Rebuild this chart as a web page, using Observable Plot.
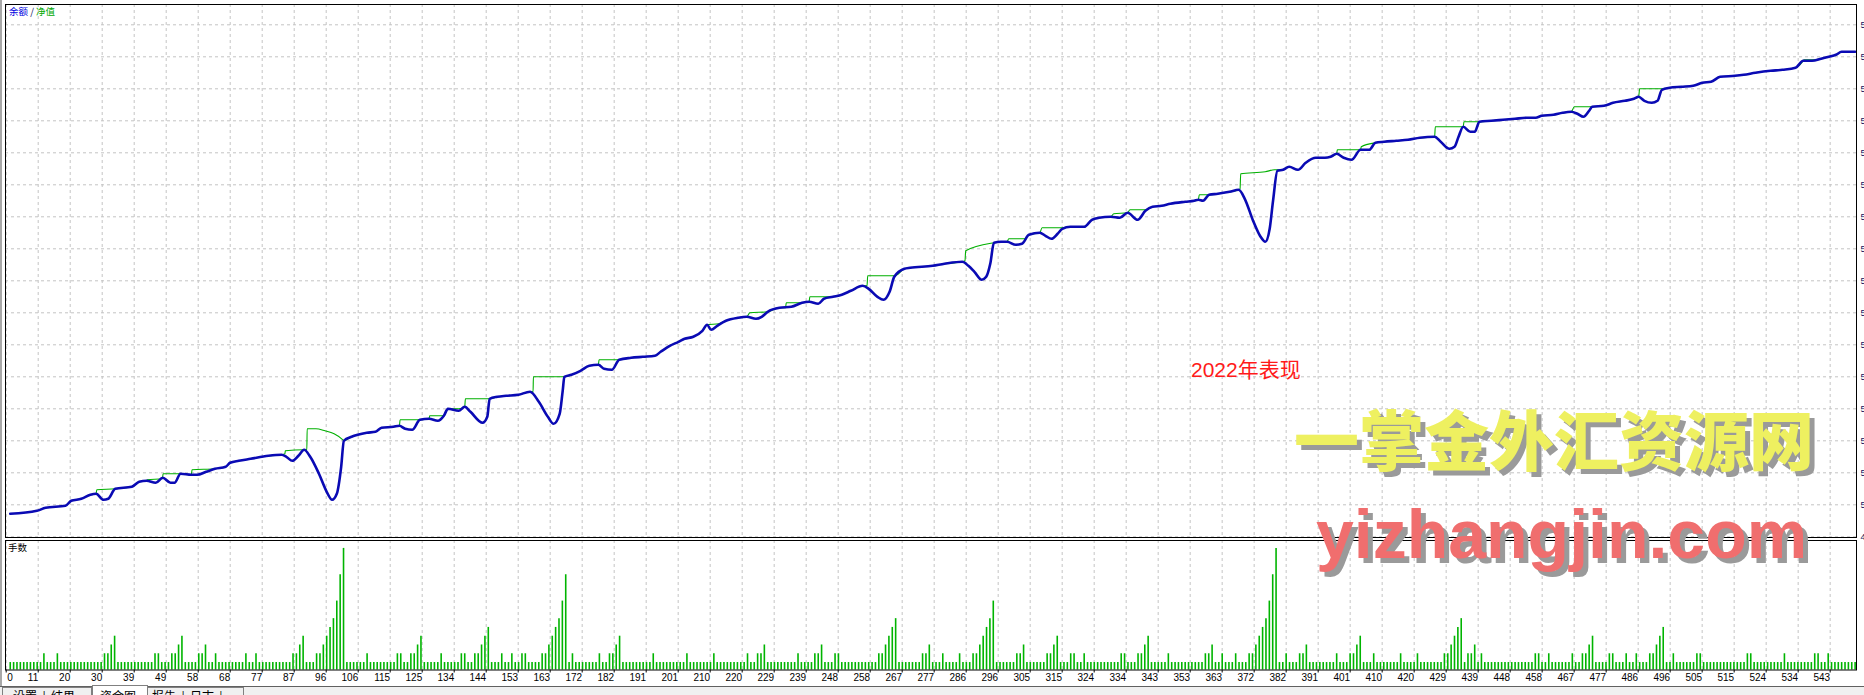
<!DOCTYPE html>
<html><head><meta charset="utf-8">
<script src="https://cdn.jsdelivr.net/npm/d3@7"></script>
<script src="https://cdn.jsdelivr.net/npm/@observablehq/plot@0.6"></script>
<style>
html,body{margin:0;padding:0;background:#fff;overflow:hidden;width:1864px;height:695px;}
#wrap{position:relative;width:1864px;height:695px;overflow:hidden;}
.abs{position:absolute;white-space:nowrap;}
#main,#vol{position:absolute;left:0;}
#main{top:0;} #vol{top:537px;}
.cjk{font-family:"Noto Sans CJK SC","Noto Sans",sans-serif;}
</style></head><body><div id="wrap">
<div class="abs" style="left:0;top:0;width:2px;height:695px;background:#a8a8a8"></div>
<div id="main"></div><div id="vol"></div>
<div class="abs cjk" style="left:9px;top:5px;font-size:9.5px;line-height:12px;"><span style="color:#0000e0">余额</span><span style="color:#101060"> / </span><span style="color:#00a800">净值</span></div>
<div class="abs cjk" style="left:8px;top:541px;font-size:9.5px;line-height:12px;color:#000">手数</div>
<div class="abs" style="left:1191px;top:358px;font-family:'Liberation Sans','Noto Sans CJK SC',sans-serif;font-size:21px;line-height:24px;color:#ff1a1a">2022年表现</div>
<div class="abs cjk" style="left:1294px;top:397px;font-size:65px;line-height:80px;font-weight:900;color:#eef060;text-shadow:5px 5px 0 #9a9a9a">一掌金外汇资源网</div>
<div class="abs" style="left:1316px;top:494px;font-family:'Liberation Sans',Arial,sans-serif;font-size:68px;line-height:80px;font-weight:bold;color:#f06e6e;text-shadow:5px 5px 0 #9a9a9a">yizhangjin.com</div>
<div class="abs" style="left:0;top:686px;width:1864px;height:9px;background:#f0f0f0;border-top:1px solid #606060"></div>
<div class="abs cjk" style="left:2px;top:687px;width:88px;height:12px;border:1px solid #808080;background:#f0f0f0"></div>
<div class="abs cjk" style="left:13px;top:689px;font-size:12px;line-height:14px;color:#000">设置&nbsp;&nbsp;|&nbsp;&nbsp;结果</div>
<div class="abs cjk" style="left:92px;top:685px;width:54px;height:12px;border:1px solid #808080;border-bottom:none;background:#fff"></div>
<div class="abs cjk" style="left:100px;top:689px;font-size:12px;line-height:14px;color:#000">资金图</div>
<div class="abs cjk" style="left:147px;top:687px;width:95px;height:12px;border:1px solid #808080;background:#f0f0f0"></div>
<div class="abs cjk" style="left:152px;top:689px;font-size:12px;line-height:14px;color:#000">报告&nbsp;&nbsp;|&nbsp;&nbsp;日志&nbsp;&nbsp;|</div>
</div>
<script>
// ---- x axis (trade numbers) ----
const xTickLabels = [0,11,20,30,39,49,58,68,77,87,96,106,115,125,134,144,153,163,172,182,191,201,210,220,229,239,248,258,267,277,286,296,305,315,324,334,343,353,363,372,382,391,401,410,420,429,439,448,458,467,477,486,496,505,515,524,534,543];
const gridStart = 1.8, gridStep = 9.505;       // trade number at each grid line
const xDomain = [1.592, 551.41];
const firstBarTrade = 3;

// ---- y axis (balance) ----
const yTicks = [4977,5009,5041,5073,5105,5137,5169,5201,5233,5265,5297,5329,5361,5393,5425,5457,5489];
const yDomain = [4976.3, 5509.3];

// ---- balance (blue) : bar index, value ----
const balanceIdx = [0,7.9,10.5,16.4,18.1,21.1,23.8,25.5,27.7,29.1,31.2,36.1,38.3,40.5,43.2,45.3,47.6,48.8,50.6,53.8,55.5,58.2,60.8,64,65.3,67.9,71.4,76.7,80.6,82,83.8,85.6,87.3,89.1,91.7,94,95.6,97,98.3,99.1,101.4,103.2,105.9,108.5,110.3,113.8,115.6,117.3,119.4,121.7,124.4,127,128.8,130,133.2,135,136.7,140.3,141.7,142.4,144.7,147.3,150.9,154.4,157,159.7,161.4,163.2,164.1,164.6,166.7,169.4,172,174.7,176.4,178.7,180.9,184.4,187.9,191.5,193.2,195.9,198.5,200.3,202.9,205.6,207,208.2,210,212.6,216.2,218.8,221.5,223.2,225,228.5,232,235.2,237.3,240,241.7,244.4,247,249.7,253.2,255,257.6,259.4,261.2,262.6,265.6,267.3,274,277.5,282.8,284.6,286.4,288.6,289.9,291.1,292.2,294.3,296.1,298.7,300.5,302.6,305.8,307.5,309.3,311.1,312.5,314.9,319,321.3,323.4,326.9,329.6,331.9,334.9,337.2,339.3,342,344.6,349,351.7,352.9,354.3,356.1,358.7,362.2,364.9,366.7,369.3,371.4,372.8,374.1,375.1,376.4,378.1,379.9,382.5,384.8,387.8,390.5,392.2,394,396.1,398.4,401.1,403.7,405.5,408.1,411.7,415.2,418.7,423.1,424.9,427.5,429,430.2,431.6,433.7,435,436.4,439.9,443.4,447,450.5,453.1,454.9,458.4,461.1,463.7,465.5,467.3,469,469.9,473.4,476.1,479.6,482.3,483.7,485.4,487.6,489.3,490.6,492.9,496.4,499.9,502.6,505.2,507.9,512.3,514.9,518.4,522.9,526.4,530.3,532.6,535.2,537.9,540.2,542.3,544,548];
const balanceValue = [5000,5003,5006,5008,5013,5015,5019,5020,5014,5015,5025,5027,5032,5033,5031,5036,5031,5031,5040,5039,5039,5042,5045,5047,5051,5053,5055,5058,5059,5057,5053,5058,5064,5057,5040,5022,5014,5020,5047,5073,5077,5079,5081,5082,5086,5087,5088,5085,5084,5094,5095,5093,5098,5105,5103,5107,5102,5091,5097,5115,5117,5118,5119,5122,5112,5097,5090,5100,5123,5137,5139,5143,5148,5149,5145,5144,5154,5156,5157,5158,5162,5168,5172,5175,5177,5183,5189,5184,5188,5193,5196,5197,5195,5197,5202,5206,5207,5211,5212,5210,5215,5217,5219,5223,5228,5225,5217,5214,5222,5237,5245,5246,5248,5250,5252,5248,5242,5234,5237,5250,5271,5272,5272,5269,5270,5279,5281,5278,5275,5280,5285,5287,5287,5294,5296,5297,5296,5301,5294,5303,5307,5308,5310,5312,5313,5314,5313,5319,5320,5322,5324,5315,5292,5277,5272,5285,5313,5343,5344,5347,5344,5351,5356,5356,5357,5360,5356,5354,5364,5364,5371,5372,5373,5374,5376,5377,5372,5365,5367,5377,5387,5382,5382,5392,5393,5394,5395,5396,5396,5398,5399,5401,5402,5400,5397,5403,5407,5408,5411,5413,5415,5417,5413,5411,5413,5424,5426,5427,5428,5431,5432,5437,5438,5439,5441,5443,5444,5446,5453,5453,5455,5457,5459,5462,5462];

// ---- equity (green) where it separates from balance: [bar index, value] ----
const equitySegments = [
 [[25.5,5020],[25.7,5024],[31.2,5025]],
 [[40.5,5033],[40.7,5034],[45.2,5035],[45.4,5040],[50.6,5040]],
 [[53.8,5039],[54,5044],[60.8,5045]],
 [[80.6,5059],[81.6,5060],[81.7,5063],[87.3,5064],[88.1,5064],[88.2,5085],[90.8,5085],[93.5,5083],[96.2,5080],[98.8,5074],[99.1,5073]],
 [[115.6,5088],[115.8,5094],[121.7,5094]],
 [[124.4,5095],[124.6,5098],[128.8,5098]],
 [[130,5105],[133.2,5105],[135,5107],[135.2,5115],[142.4,5115]],
 [[154.4,5122],[155.3,5122],[155.4,5137],[164.6,5137]],
 [[174.7,5149],[174.9,5154],[180.9,5154]],
 [[207,5189],[210.5,5190],[212.6,5193]],
 [[218.8,5197],[219.7,5201],[225,5202]],
 [[230.3,5206],[230.5,5211],[235.2,5211]],
 [[237.3,5212],[237.5,5217],[244.4,5217]],
 [[253.2,5228],[254.5,5228],[254.7,5238],[262.8,5238]],
 [[282.8,5252],[283.6,5253],[283.8,5263],[292.2,5271]],
 [[296.1,5272],[296.6,5275],[301.4,5275],[302.6,5279]],
 [[305.8,5281],[306.5,5286],[312.5,5286]],
 [[326.9,5297],[327.8,5300],[331.9,5301],[332.6,5304],[337.2,5304]],
 [[352.9,5314],[353.2,5319],[356.1,5319]],
 [[364.9,5324],[365.3,5325],[365.5,5340],[372.8,5342],[375.5,5344],[376.4,5344]],
 [[394,5360],[394.2,5364],[401.1,5364],[401.3,5367],[405.5,5371]],
 [[423.1,5377],[423.3,5387],[431.6,5387],[431.8,5392],[436.4,5392]],
 [[463.7,5402],[464.6,5407],[469.9,5407]],
 [[483.7,5417],[484,5425],[490.6,5425]],
 [[532.6,5453],[532.8,5454],[535.5,5454],[537.9,5455]]
];

// ---- lots (手数): every trade has a bar; base lot plus the larger ones ----
const tradeCount = 549;
const baseLot = 1;
const spikeIdx = [10,14,28,29,30,31,43,44,48,49,50,51,56,57,58,61,70,73,84,85,86,87,91,92,93,94,95,96,97,98,99,106,115,116,119,120,121,122,128,134,135,138,139,140,141,142,146,149,152,153,158,159,160,161,162,163,164,165,167,175,178,179,180,181,191,201,209,219,222,223,224,234,239,240,241,245,246,258,259,260,261,262,263,271,272,273,277,282,286,287,288,289,290,291,292,299,300,301,308,309,310,311,315,316,319,330,331,335,336,337,338,344,355,356,357,360,364,368,369,370,371,372,373,374,375,376,379,383,384,385,394,398,399,400,401,405,413,418,426,427,428,429,430,431,433,434,435,437,453,454,457,464,467,468,469,470,475,476,480,483,487,488,489,490,491,494,501,502,516,517,527,536,537,540];
const spikeLot = [2,2,2,2,3,4,2,2,2,2,3,4,2,2,3,2,2,2,2,2,3,4,2,2,3,4,5,6,8,11,14,2,2,2,2,2,3,4,2,2,2,2,2,3,4,5,2,2,2,2,2,2,3,4,5,6,8,11,2,2,2,2,3,4,2,2,2,2,2,2,3,2,2,2,3,2,2,2,2,3,4,5,6,2,2,3,2,2,2,2,3,4,5,6,8,2,2,3,2,2,3,4,2,2,2,2,2,2,2,3,4,2,2,2,3,2,2,2,2,3,4,5,6,8,11,14,2,2,2,3,2,2,2,3,4,2,2,2,2,2,3,4,5,6,2,2,3,2,2,2,2,2,2,2,3,4,2,2,2,2,2,2,3,4,5,2,2,2,2,2,2,2,2,2];
const lotDomain = [0.15, 14.9];

// ---------- build rows ----------
const xTickPos = xTickLabels.map((d, k) => gridStart + k * gridStep);
const xTickRows = xTickLabels.map((d, k) => ({pos: xTickPos[k], label: String(d)}));
const balance = balanceIdx.map((j, i) => ({x: j + firstBarTrade, v: balanceValue[i]}));
const inSeg = j => equitySegments.some(s => j >= s[0][0] && j <= s[s.length - 1][0]);
const equity = balanceIdx.map((j, i) => [j, balanceValue[i]]).filter(d => !inSeg(d[0]))
  .concat(equitySegments.flat()).sort((a, b) => a[0] - b[0])
  .map(d => ({x: d[0] + firstBarTrade, v: d[1]}));
const spikes = new Map(spikeIdx.map((j, i) => [j, spikeLot[i]]));
const lots = d3.range(tradeCount).map(j => ({x: j + firstBarTrade, lot: spikes.get(j) ?? baseLot}));

const gridStyle = {stroke: "#c4c4c4", strokeWidth: 1, strokeDasharray: "3,3"};
const main = Plot.plot({
  width: 1864, height: 540,
  marginTop: 4, marginBottom: 3, marginLeft: 5, marginRight: 8,
  style: {background: "none", overflow: "visible"},
  x: {domain: xDomain, axis: null},
  y: {domain: yDomain, axis: null},
  marks: [
    Plot.ruleX(xTickPos, gridStyle),
    Plot.ruleY(yTicks, gridStyle),
    Plot.line(equity, {x: "x", y: "v", stroke: "#00b000", strokeWidth: 1.1, curve: "monotone-x"}),
    Plot.line(balance, {x: "x", y: "v", stroke: "#0a0ab4", strokeWidth: 2.6, curve: "monotone-x"}),
    Plot.frame({stroke: "#000", strokeWidth: 1}),
    Plot.text(yTicks, {y: d => d, text: d => d.toFixed(2), frameAnchor: "right", textAnchor: "start", dx: 4,
      fontSize: 9.5, fontFamily: "Liberation Sans", fill: "#101060"})
  ]
});
document.getElementById("main").appendChild(main);

const vol = Plot.plot({
  width: 1864, height: 158,
  marginTop: 3, marginBottom: 25.5, marginLeft: 5, marginRight: 8,
  style: {background: "none", overflow: "visible"},
  x: {domain: xDomain, axis: null},
  y: {domain: lotDomain, axis: null},
  marks: [
    Plot.ruleX(xTickPos, gridStyle),
    Plot.ruleX(lots, {x: "x", y1: lotDomain[0], y2: "lot", stroke: "#00b400", strokeWidth: 1.6}),
    Plot.ruleX(xTickPos, {stroke: "#000", insetTop: 129.5, insetBottom: -3}),
    Plot.frame({stroke: "#000", strokeWidth: 1}),
    Plot.text(xTickRows.slice(1), {x: "pos", text: "label", frameAnchor: "bottom", textAnchor: "end", lineAnchor: "top",
      dy: 4, fontSize: 10, fontFamily: "Liberation Sans", fill: "#000"}),
    Plot.text(xTickRows.slice(0, 1), {x: "pos", text: "label", frameAnchor: "bottom", textAnchor: "start", lineAnchor: "top",
      dy: 4, dx: 1, fontSize: 10, fontFamily: "Liberation Sans", fill: "#000"})
  ]
});
document.getElementById("vol").appendChild(vol);
</script>
</body></html>
